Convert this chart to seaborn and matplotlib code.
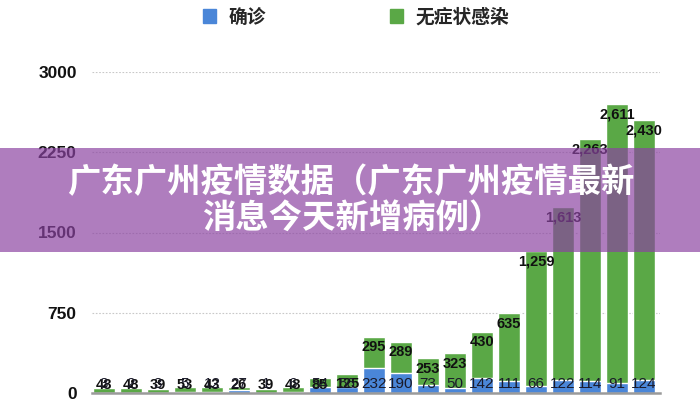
import matplotlib
matplotlib.use("Agg")
import matplotlib.pyplot as plt
from matplotlib.patches import Rectangle, Patch
import seaborn as sns
import pandas as pd
import numpy as np

# ---- data ----
days = [f"D{i+1}" for i in range(21)]
confirmed = [3, 2, 3, 5, 12, 27, 1, 6, 54, 56, 232, 190, 73, 50, 142, 111, 66, 122, 114, 91, 124]
asymptomatic = [48, 48, 39, 53, 43, 26, 39, 48, 85, 125, 295, 289, 253, 323, 430, 635, 1259, 1613, 2263, 2611, 2430]
yticks = [0, 750, 1500, 2250, 3000]
legend_labels = ["确诊", "无症状感染"]
title_lines = ["广东广州疫情数据（广东广州疫情最新", "消息今天新增病例）"]

BLUE = "#4a86d8"
GREEN = "#5aa846"

sns.set_theme(style="white")
plt.rcParams["font.family"] = ["Liberation Sans", "Noto Sans CJK SC", "DejaVu Sans"]

df = pd.DataFrame({"day": days, "confirmed": confirmed, "asym": asymptomatic})
df["total"] = df["confirmed"] + df["asym"]

fig = plt.figure(figsize=(7, 4), dpi=100)
ax = fig.add_axes([92 / 700, 7 / 400, 568 / 700, 321 / 400])

sns.barplot(data=df, x="day", y="total", color=GREEN, width=0.8, saturation=1, ax=ax, zorder=2)
sns.barplot(data=df, x="day", y="confirmed", color=BLUE, width=0.8, saturation=1, ax=ax, zorder=2)

ax.set_xlim(-0.44, 20.59)
ax.set_ylim(0, 3000)
ax.set_yticks(yticks)
ax.set_yticklabels([str(t) for t in yticks], fontsize=12.5, fontweight="bold", color="#111111")
ax.tick_params(axis="y", length=0, pad=11)
ax.set_xticks([])
ax.set_xlabel("")
ax.set_ylabel("")
for s in ["top", "right", "left"]:
    ax.spines[s].set_visible(False)
ax.spines["bottom"].set_color("#9a9a9a")
ax.spines["bottom"].set_linewidth(1.8)
for t in yticks[1:]:
    ax.axhline(t, color="#c8c8c8", lw=0.8, ls=(0, (1.5, 1.5)), zorder=1)

def fmt(v):
    return f"{v:,}"

floor_val = 175
for i, (c, a, tot) in enumerate(zip(df["confirmed"], df["asym"], df["total"])):
    ax.annotate(fmt(a), xy=(i, max(tot, floor_val)), xytext=(0, -7.5), textcoords="offset points",
                ha="center", va="center", fontsize=10.5, fontweight="bold", color="#111111", zorder=5,
                annotation_clip=False)
    ax.annotate(fmt(c), xy=(i, 0), xytext=(0, 6.5), textcoords="offset points",
                ha="center", va="center", fontsize=11, color="#1a1a2a", zorder=5,
                annotation_clip=False)

# legend
handles = [Patch(facecolor=BLUE, edgecolor=BLUE), Patch(facecolor=GREEN, edgecolor=GREEN)]
leg = fig.legend(handles, legend_labels, loc="center", bbox_to_anchor=(356 / 700, 1 - 17 / 400),
                 ncol=2, frameon=False, handlelength=0.7, handleheight=0.7, handletextpad=0.65,
                 columnspacing=6.6, prop={"family": ["Noto Sans CJK SC", "DejaVu Sans"], "weight": "heavy", "size": 13.5})

# overlay banner
fig.add_artist(Rectangle((0, 1 - 252 / 400), 1, 104 / 400, transform=fig.transFigure,
                         facecolor="#8b43a1", alpha=0.69, edgecolor="none", zorder=10))
fig.text(351 / 700, 1 - 183 / 400, title_lines[0], ha="center", va="center", color="white",
         fontsize=24, fontweight="black", family=["Noto Sans CJK SC", "DejaVu Sans"], zorder=11)
fig.text(352 / 700, 1 - 219 / 400, title_lines[1], ha="center", va="center", color="white",
         fontsize=24, fontweight="black", family=["Noto Sans CJK SC", "DejaVu Sans"], zorder=11)

fig.savefig("out.png", dpi=100)
